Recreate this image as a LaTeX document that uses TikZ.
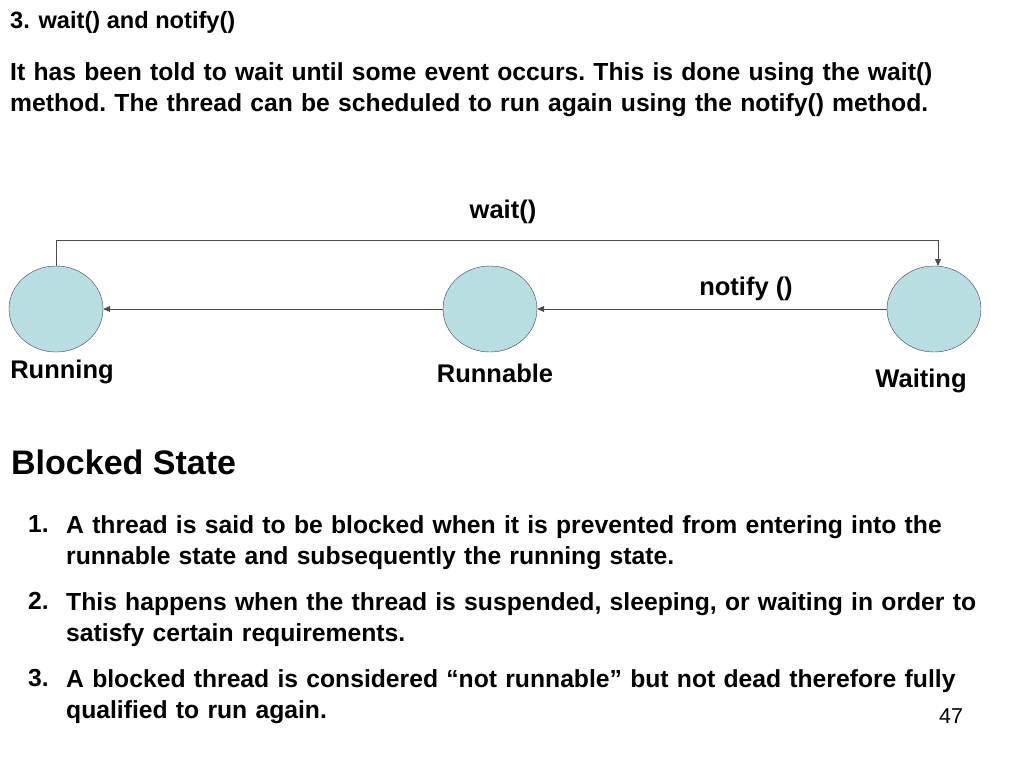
\documentclass[tikz,border=0pt]{standalone}
\usepackage{fontspec}
\setmainfont{Liberation Sans}
\usetikzlibrary{arrows.meta,shapes.geometric}
\newcommand{\mybodyfont}{\fontsize{24.7}{31}\selectfont\bfseries\frenchspacing\hyphenpenalty=10000\relax\exhyphenpenalty=10000\relax}
\begin{document}
\begin{tikzpicture}[x=1pt,y=1pt,
  st/.style={ellipse,draw=black!75,fill=stfill,minimum width=94pt,minimum height=86pt,inner sep=0pt},
  lbl/.style={font=\fontsize{25.5}{30}\selectfont\bfseries,inner sep=0pt},
  con/.style={draw=black!70,line width=0.8pt,-{Triangle[length=7pt,width=6pt]}},
  body/.style={font=\mybodyfont,inner sep=0pt,anchor=north west}]
\definecolor{stfill}{HTML}{B8DEE2}
\useasboundingbox (0,0) rectangle (1024,-768);
\node[lbl,anchor=base west,font=\fontsize{23.6}{28}\selectfont\bfseries] (title) at (10,-29) {3. wait() and notify()};
\node[body,text width=1004pt] (para) at (10,-62) {It has been told to wait until some event occurs. This is done using the wait() method. The thread can be scheduled to run again using the notify() method.};
\node[st] (run) at (56,-309) {};
\node[st] (rbl) at (490,-309) {};
\node[st] (wait) at (934,-309) {};
\coordinate (c1) at (56,-240);
\coordinate (c2) at (938,-240);
\coordinate (c3) at (938,-266);
\draw[con] (run.north) -- (c1) -- (c2) -- (c3);
\draw[con] (wait.west) -- (rbl.east);
\draw[con] (rbl.west) -- (run.east);
\node[lbl] (lw) at (503,-212) {wait()};
\node[lbl] (ln) at (746,-289) {notify ()};
\node[lbl] (lrun) at (62,-372) {Running};
\node[lbl] (lrbl) at (495,-373) {Runnable};
\node[lbl] (lwait) at (921,-381) {Waiting};
\node[lbl,anchor=base west,font=\fontsize{34}{40}\selectfont\bfseries] (bs) at (11,-474) {Blocked State};
\node[body,text width=36pt] (n1) at (28,-515) {1.};
\node[body,text width=930pt] (t1) at (66,-515) {A thread is said to be blocked when it is prevented from entering into the runnable state and subsequently the running state.};
\node[body,text width=36pt] (n2) at (28,-592) {2.};
\node[body,text width=930pt] (t2) at (66,-592) {This happens when the thread is suspended, sleeping, or waiting in order to satisfy certain requirements.};
\node[body,text width=36pt] (n3) at (28,-669) {3.};
\node[body,text width=930pt] (t3) at (66,-669) {A blocked thread is considered “not runnable” but not dead therefore fully qualified to run again.};
\node[inner sep=0pt,font=\fontsize{21.5}{26}\selectfont] (pg) at (951,-716) {47};
\end{tikzpicture}
\end{document}
